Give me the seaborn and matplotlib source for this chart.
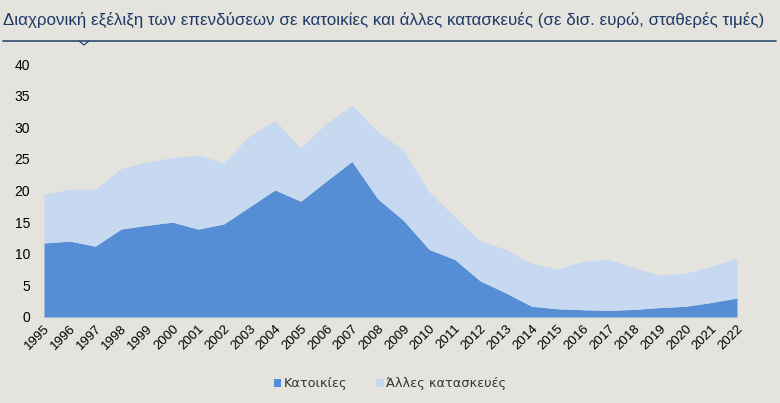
import matplotlib
matplotlib.use("Agg")
import matplotlib.pyplot as plt
import seaborn as sns
import pandas as pd
from matplotlib.lines import Line2D
from matplotlib.patches import Patch

years = list(range(1995, 2023))
houses = [11.7, 12.0, 11.2, 13.9, 14.5, 15.0, 13.9, 14.7, 17.4, 20.1,
          18.3, 21.5, 24.6, 18.7, 15.3, 10.7, 9.1, 5.7, 3.8, 1.7,
          1.3, 1.15, 1.05, 1.2, 1.5, 1.7, 2.3, 3.0]
total = [19.4, 20.2, 20.2, 23.5, 24.5, 25.2, 25.6, 24.4, 28.6, 31.1,
         26.7, 30.6, 33.5, 29.3, 26.4, 19.8, 15.8, 12.0, 10.7, 8.5,
         7.6, 8.8, 9.1, 7.8, 6.6, 6.9, 8.0, 9.3]
other = [round(t - h, 2) for t, h in zip(total, houses)]
series_names = ["Κατοικίες", "Άλλες κατασκευές"]
title = "Διαχρονική εξέλιξη των επενδύσεων σε κατοικίες και άλλες κατασκευές (σε δισ. ευρώ, σταθερές τιμές)"

df = pd.DataFrame({"year": years, series_names[0]: houses, series_names[1]: other})

bg = "#E4E3DE"
c_dark = "#558ED5"
c_light = "#C6D9F1"

sns.set_style("white")
plt.rcParams["font.family"] = ["Liberation Sans", "DejaVu Sans"]

fig = plt.figure(figsize=(7.8, 4.03), dpi=100, facecolor=bg)
ax = fig.add_axes([44/780, 86/403, (737-44)/780, (317-64)/403])
ax.set_facecolor(bg)

ax.stackplot(df["year"], df[series_names[0]], df[series_names[1]],
             colors=[c_dark, c_light], linewidth=0)
sns.lineplot(x=df["year"], y=df[series_names[0]], ax=ax, color=c_dark, linewidth=0)

ax.set_xlim(years[0], years[-1])
ax.set_ylim(0, 40)
ax.set_yticks(range(0, 45, 5))
ax.set_xticks(years)
ax.set_xticklabels([str(y) for y in years], rotation=45, ha="right",
                   rotation_mode="anchor", fontsize=9.5, color="#000000")
ax.tick_params(axis="y", labelsize=10, colors="#000000", length=0, pad=10)
ax.tick_params(axis="x", length=0, pad=4)
ax.set_xlabel("")
ax.set_ylabel("")
for s in ax.spines.values():
    s.set_visible(False)
ax.grid(False)

# Title and rule
fig.text(3/780, 1 - 20/403, title, fontsize=12.2, color="#1F3A66",
         family=["Liberation Sans", "DejaVu Sans"],
         va="center", ha="left")
line = Line2D([3/780, 776/780], [1 - 41/403, 1 - 41/403], transform=fig.transFigure,
              color="#2E4A70", linewidth=1.2)
fig.add_artist(line)
notch = Line2D([79/780, 84/780, 89/780], [1 - 41/403, 1 - 45/403, 1 - 41/403],
               transform=fig.transFigure, color="#2E4A70", linewidth=0.9)
fig.add_artist(notch)

handles = [Patch(facecolor=c_dark, edgecolor="none"), Patch(facecolor=c_light, edgecolor="none")]
fig.legend(handles, series_names, loc="center", bbox_to_anchor=(0.5, 1 - 384/403),
           ncol=2, frameon=False, handlelength=0.6, handleheight=0.6,
           handletextpad=0.2, columnspacing=2.2, labelcolor="#333333",
           prop={"family": ["DejaVu Sans"], "size": 9.3})

fig.savefig("out.png", dpi=100, facecolor=bg)
